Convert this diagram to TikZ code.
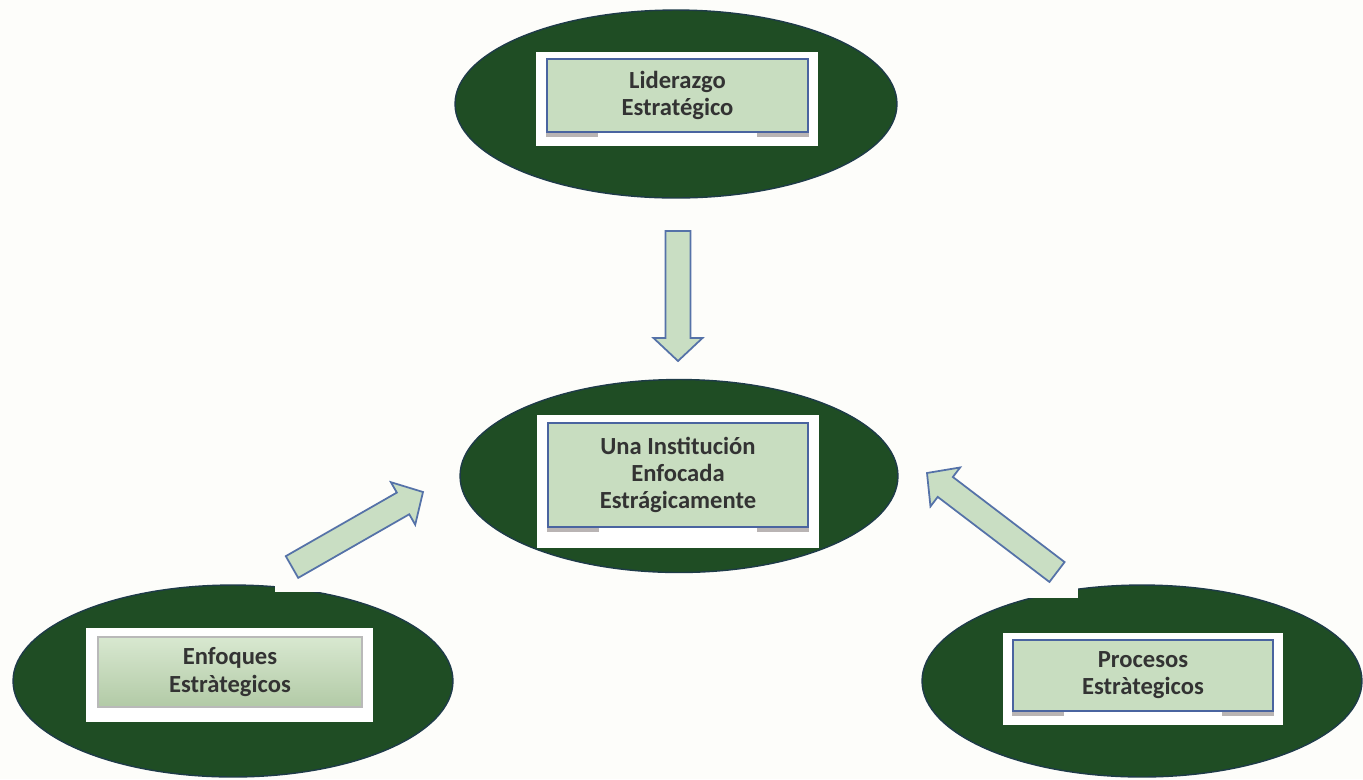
\documentclass[tikz,border=0pt]{standalone}
\usepackage{fontspec}
\setmainfont{Carlito}
\usepackage{xcolor}
\usepackage{tikz}
\usetikzlibrary{shapes.geometric, calc}
\definecolor{paper}{HTML}{FDFDFA}
\definecolor{ovalGreen}{HTML}{1F4D24}
\definecolor{ovalEdge}{HTML}{1E3B48}
\definecolor{boxGreen}{HTML}{C8DDC0}
\definecolor{boxBlue}{HTML}{4A64A0}
\definecolor{enfTop}{HTML}{D8E8D0}
\definecolor{enfBottom}{HTML}{B2CAA6}
\definecolor{arrowGreen}{HTML}{C9DEC3}
\definecolor{arrowBlue}{HTML}{5572A8}
\definecolor{labelGray}{HTML}{333333}
\definecolor{tabGray}{HTML}{B9B4B4}

% block arrow from #1 to #2
\newcommand{\blockarrow}[2]{%
    \coordinate (ba-h) at ($(#2)!0.46cm!(#1)$);
    \draw[blockarrow] ($(#1)!0.25cm!90:(#2)$) -- ($(ba-h)!0.25cm!90:(#2)$)
        -- ($(ba-h)!0.49cm!90:(#2)$) -- (#2) -- ($(ba-h)!0.49cm!-90:(#2)$)
        -- ($(ba-h)!0.25cm!-90:(#2)$) -- ($(#1)!0.25cm!-90:(#2)$) -- cycle;
}

\begin{document}
\begin{tikzpicture}[x=0.02cm, y=-0.02cm,
    oval/.style={ellipse, fill=ovalGreen, draw=ovalEdge, line width=0.8pt, inner sep=0pt},
    frame/.style={rectangle, fill=white, inner sep=0pt},
    labelbox/.style={rectangle, fill=boxGreen, draw=boxBlue, line width=0.9pt, inner sep=0pt,
        align=center, text=labelGray, font=\bfseries\fontsize{14}{15.4}\selectfont},
    tab/.style={fill=tabGray},
    blockarrow/.style={fill=arrowGreen, draw=arrowBlue, line width=1pt, line join=miter}]
    \fill[paper] (0,0) rectangle (1363,779);
    \useasboundingbox (0,0) rectangle (1363,779);

    % ovals
    \node[oval, minimum width=8.84cm, minimum height=3.76cm] (lid-oval) at (676,104) {};
    \node[oval, minimum width=8.76cm, minimum height=3.86cm] (inst-oval) at (679,476) {};
    \node[oval, minimum width=8.8cm, minimum height=3.84cm] (enf-oval) at (233,681) {};
    \node[oval, minimum width=8.8cm, minimum height=3.84cm] (proc-oval) at (1142,681) {};
    \fill[paper] (275,470) rectangle (440,592);
    \fill[paper] (915,460) rectangle (1078,598);

    % labels
    \node[frame, minimum width=5.64cm, minimum height=1.88cm] at (677,99) {};
    \node[labelbox, minimum width=5.22cm, minimum height=1.46cm] (lid) at (677.5,95.5)
        {Liderazgo\\Estratégico};
    \node[frame, minimum width=5.64cm, minimum height=2.66cm] at (678,481.5) {};
    \node[labelbox, minimum width=5.2cm, minimum height=2.08cm] (inst) at (678,475)
        {Una Institución\\Enfocada\\Estrágicamente};
    \node[frame, minimum width=5.74cm, minimum height=1.88cm] at (229.5,675) {};
    \node[labelbox, draw=gray!55, top color=enfTop, bottom color=enfBottom,
        minimum width=5.28cm, minimum height=1.4cm] (enf) at (230,672)
        {Enfoques\\Estràtegicos};
    \node[frame, minimum width=5.6cm, minimum height=1.84cm] at (1143,679) {};
    \node[labelbox, minimum width=5.2cm, minimum height=1.42cm] (proc) at (1143,675.5)
        {Procesos\\Estràtegicos};
    \foreach \b in {lid,inst,proc} {
        \fill[tab] (\b.south west) rectangle ++(52,4);
        \fill[tab] (\b.south east) rectangle ++(-52,4);
    }

    % arrows
    \coordinate (a1s) at (678,231);
    \coordinate (a1e) at (678,361);
    \coordinate (a2s) at (292,567);
    \coordinate (a2e) at (423,492);
    \coordinate (a3s) at (1057,572);
    \coordinate (a3e) at (927,473);
    \blockarrow{a1s}{a1e}
    \blockarrow{a2s}{a2e}
    \blockarrow{a3s}{a3e}
\end{tikzpicture}
\end{document}
